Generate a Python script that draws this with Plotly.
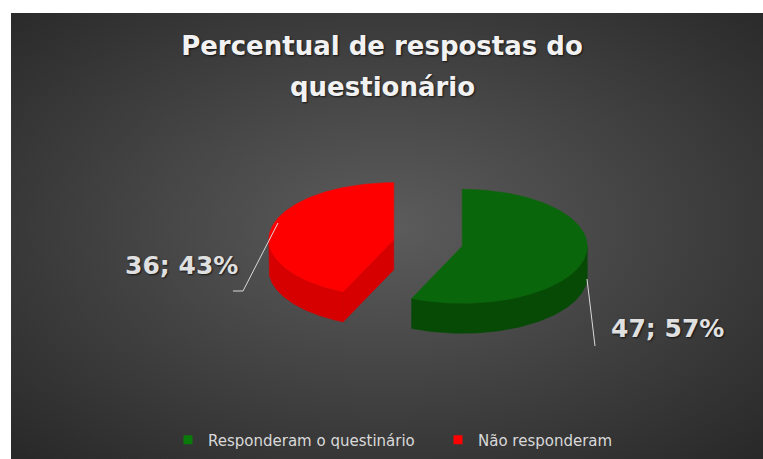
import base64
import numpy as np
import plotly.graph_objects as go

# ---- data ----
categories = ["Responderam o questinário", "Não responderam"]
values = [47, 36]
top_colors = ["#0a660a", "#ff0000"]
side_colors = ["#064a06", "#d60000"]
legend_colors = ["#0a7a0a", "#ff0000"]
title_lines = ["Percentual de respostas do", "questionário"]

total = sum(values)
pcts = [round(v / total * 100) for v in values]

# ---- 3D pie geometry (pixel space) ----
W, Hgt = 763, 459
CX, CY = 428.0, 243.0   # pie centre (top face)
A, B = 125.0, 57.0      # ellipse radii
TH = 30.0               # thickness
EXPL = 0.28             # explosion fraction

fig = go.Figure()


def poly(xs, ys, color):
    fig.add_trace(go.Scatter(
        x=list(xs) + [xs[0]], y=list(ys) + [ys[0]], mode="lines", fill="toself",
        fillcolor=color, line=dict(color=color, width=0.6),
        hoverinfo="skip", showlegend=False))


slices = []
start = 0.0
for i, v in enumerate(values):
    th1 = start
    th2 = start + v / total * 2 * np.pi
    mid = (th1 + th2) / 2
    cx = CX + EXPL * A * np.sin(mid)
    cy = CY - EXPL * B * np.cos(mid)
    slices.append((i, th1, th2, cx, cy))
    start = th2


def ex(cx, th):
    return cx + A * np.sin(th)


def ey(cy, th):
    return cy - B * np.cos(th)


for i, th1, th2, cx, cy in sorted(slices, key=lambda s: -s[0]):
    # outer wall, visible where the rim faces the viewer
    s = max(th1, np.pi / 2)
    e = min(th2, 3 * np.pi / 2)
    if e > s:
        t = np.linspace(s, e, 120)
        xs = np.concatenate([ex(cx, t), ex(cx, t[::-1])])
        ys = np.concatenate([ey(cy, t), ey(cy, t[::-1]) + TH])
        poly(xs, ys, side_colors[i])
    # radial cut faces facing the viewer
    for th, sign in ((th1, -1), (th2, 1)):
        nth = th + sign * np.pi / 2
        if np.cos(nth) < -1e-6:
            xs = [cx, ex(cx, th), ex(cx, th), cx]
            ys = [cy, ey(cy, th), ey(cy, th) + TH, cy + TH]
            poly(xs, ys, side_colors[i])
    # top face
    t = np.linspace(th1, th2, 200)
    xs = np.concatenate([[cx], ex(cx, t)])
    ys = np.concatenate([[cy], ey(cy, t)])
    poly(xs, ys, top_colors[i])

# leader lines
leader_red_x, leader_red_y = [278, 243, 233], [223, 291, 291]
leader_green_x, leader_green_y = [587, 595], [279, 346]
for lx, ly in ((leader_green_x, leader_green_y), (leader_red_x, leader_red_y)):
    fig.add_trace(go.Scatter(x=lx, y=ly, mode="lines",
                             line=dict(color="#d9d9d9", width=1),
                             hoverinfo="skip", showlegend=False))

# legend entries
for name, col in zip(categories, legend_colors):
    fig.add_trace(go.Scatter(x=[None], y=[None], mode="markers", name=name,
                             marker=dict(symbol="square", size=9, color=col)))

label_pos = [(667, 328), (181, 265)]
shadow = "1px 1px 2px rgba(0,0,0,0.7)"
annotations = []
for (x, y), v, p in zip(label_pos, values, pcts):
    annotations.append(dict(x=x, y=y, xref="x", yref="y", text=f"{v}; {p}%",
                            showarrow=False, xanchor="center", yanchor="middle",
                            font=dict(family="DejaVu Sans", size=25, color="#e0e0e0",
                                      weight="bold", shadow=shadow)))
annotations.append(dict(x=382, y=87, xref="x", yref="y", text=title_lines[1],
                        showarrow=False, xanchor="center", yanchor="middle",
                        font=dict(family="DejaVu Sans", size=26, color="#f2f2f2",
                                  weight="bold", shadow=shadow)))

svg = ('<svg xmlns="http://www.w3.org/2000/svg" width="752" height="446" '
       'viewBox="0 0 752 446" preserveAspectRatio="none"><defs>'
       '<radialGradient id="g" cx="50%" cy="48%" r="71%">'
       '<stop offset="0" stop-color="#5c5c5c"/><stop offset="1" stop-color="#292929"/>'
       '</radialGradient></defs><rect width="752" height="446" fill="url(#g)"/></svg>')
src = "data:image/svg+xml;base64," + base64.b64encode(svg.encode()).decode()

fig.update_layout(
    width=W, height=Hgt,
    margin=dict(l=0, r=0, t=0, b=0),
    paper_bgcolor="#ffffff",
    plot_bgcolor="rgba(0,0,0,0)",
    images=[dict(source=src, xref="paper", yref="paper", x=11 / W, y=1 - 13 / Hgt,
                 sizex=(W - 11) / W, sizey=(Hgt - 13) / Hgt, xanchor="left",
                 yanchor="top", sizing="stretch", layer="below")],
    xaxis=dict(range=[0, W], visible=False, fixedrange=True),
    yaxis=dict(range=[Hgt, 0], visible=False, fixedrange=True),
    title=dict(text=title_lines[0], x=382 / W, xanchor="center", y=1 - 46 / Hgt,
               yanchor="middle",
               font=dict(family="DejaVu Sans", size=26, color="#f2f2f2",
                         weight="bold", shadow=shadow)),
    annotations=annotations,
    showlegend=True,
    legend=dict(orientation="h", x=168 / W, xanchor="left", y=1 - 440 / Hgt,
                yanchor="middle", bgcolor="rgba(0,0,0,0)", entrywidth=225,
                font=dict(family="DejaVu Sans", size=15, color="#d9d9d9")),
)

fig.write_html("out.html")
